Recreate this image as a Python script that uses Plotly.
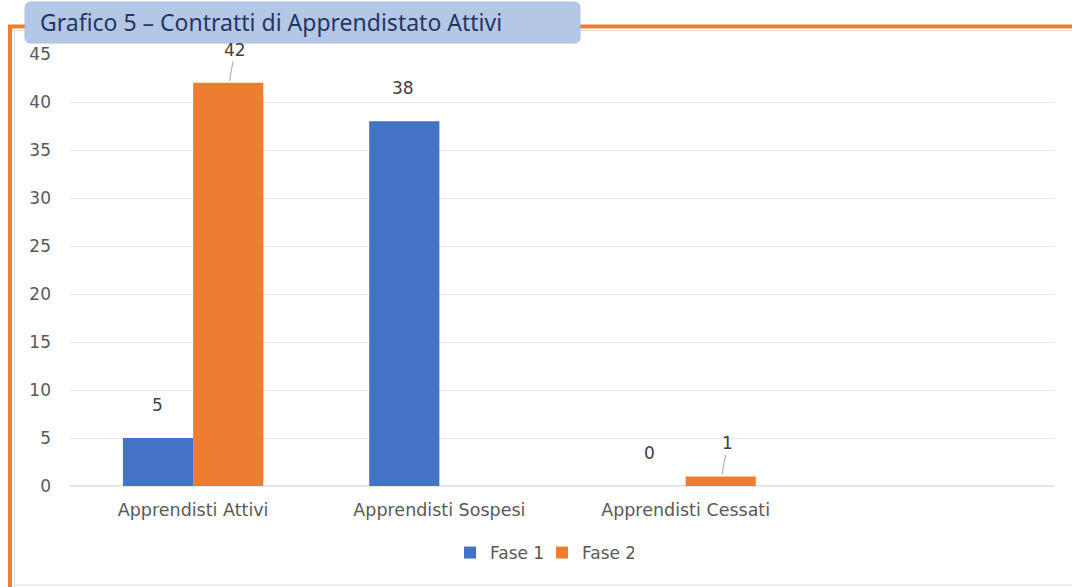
import plotly.graph_objects as go

categories = ["Apprendisti Attivi", "Apprendisti Sospesi", "Apprendisti Cessati"]
fase1 = [5, 38, 0]
fase2 = [42, None, 1]
series_names = ["Fase 1", "Fase 2"]
colors = ["#4472C4", "#ED7D31"]
title_text = "Grafico 5 – Contratti di Apprendistato Attivi"

W, H = 1072, 587
L = 70
R = W - 1055
T = 54
B = H - 486
PW, PH = W - L - R, H - T - B


def px(x):  # page x -> paper
    return (x - L) / PW


def py(y):  # page y -> paper
    return (H - B - y) / PH


fig = go.Figure()
for name, vals, col in zip(series_names, [fase1, fase2], colors):
    fig.add_trace(go.Bar(name=name, x=categories, y=vals, marker_color=col,
                         marker_line_width=0))

FONT = "DejaVu Sans"
label_font = dict(family=FONT, size=17, color="#404040")
for vals, shift in [(fase1, -36), (fase2, 36)]:
    for c, v in zip(categories, vals):
        if v is None:
            continue
        leader = v in (42, 1)
        if leader:
            fig.add_annotation(x=c, y=v, xref="x", yref="y", text=str(v),
                               showarrow=True, arrowhead=0, arrowwidth=1,
                               arrowcolor="#A6A6A6", ax=6, ay=-33, standoff=2,
                               xshift=shift, font=label_font)
        else:
            fig.add_annotation(x=c, y=v, xref="x", yref="y", text=str(v),
                               showarrow=False, xshift=shift, yshift=33,
                               yanchor="middle", font=label_font)

shapes = []
grey = dict(color="#D9D9D9", width=1)
shapes.append(dict(type="line", xref="paper", yref="paper", x0=px(14), x1=px(1080), y0=py(30.5), y1=py(30.5), line=grey))
shapes.append(dict(type="line", xref="paper", yref="paper", x0=px(14.5), x1=px(14.5), y0=py(30), y1=py(595), line=grey))
shapes.append(dict(type="line", xref="paper", yref="paper", x0=px(14), x1=px(1080), y0=py(585), y1=py(585), line=grey))
shapes.append(dict(type="line", xref="paper", yref="paper", x0=px(8), x1=px(1080), y0=py(26.5), y1=py(26.5),
                   line=dict(color="#ED7D31", width=4)))
shapes.append(dict(type="line", xref="paper", yref="paper", x0=px(10), x1=px(10), y0=py(25), y1=py(595),
                   line=dict(color="#ED7D31", width=4)))
x0, x1, y0, y1, r = 25, 580, 2, 43, 6
path = (f"M {px(x0 + r)},{py(y0)} L {px(x1 - r)},{py(y0)} Q {px(x1)},{py(y0)} {px(x1)},{py(y0 + r)} "
        f"L {px(x1)},{py(y1 - r)} Q {px(x1)},{py(y1)} {px(x1 - r)},{py(y1)} "
        f"L {px(x0 + r)},{py(y1)} Q {px(x0)},{py(y1)} {px(x0)},{py(y1 - r)} "
        f"L {px(x0)},{py(y0 + r)} Q {px(x0)},{py(y0)} {px(x0 + r)},{py(y0)} Z")
shapes.append(dict(type="path", xref="paper", yref="paper", path=path,
                   fillcolor="#B4C7E7", line=dict(color="#A9BEE2", width=1)))
fig.update_layout(shapes=shapes)

fig.add_annotation(xref="paper", yref="paper", x=px(38), y=py(22.5), xanchor="left", yanchor="middle",
                   text=title_text, showarrow=False,
                   font=dict(family="Noto Sans", size=23, color="#1F3864"))

fig.update_layout(
    width=W, height=H,
    margin=dict(l=L, r=R, t=T, b=B),
    paper_bgcolor="white", plot_bgcolor="white",
    barmode="group", bargap=0.43, bargroupgap=0,
    showlegend=True,
    legend=dict(orientation="h", x=px(542), xanchor="center", y=py(553), yanchor="middle",
                entrywidth=47, entrywidthmode="pixels",
                font=dict(family=FONT, size=17, color="#595959")),
    xaxis=dict(range=[-0.5, 3.5], showgrid=False, showline=False, ticks="",
               ticklabelstandoff=11,
               tickfont=dict(family=FONT, size=17.5, color="#595959")),
    yaxis=dict(range=[0, 45], dtick=5, showgrid=True, gridcolor="#E6E6E6", gridwidth=1,
               zeroline=True, zerolinecolor="#E6E6E6", showline=False, ticks="",
               ticklabelstandoff=18,
               tickfont=dict(family=FONT, size=17, color="#595959")),
    font=dict(family=FONT),
)

fig.write_html("out.html", config={"displayModeBar": False},
               post_script="document.body.style.margin='0';document.body.style.padding='0';")
